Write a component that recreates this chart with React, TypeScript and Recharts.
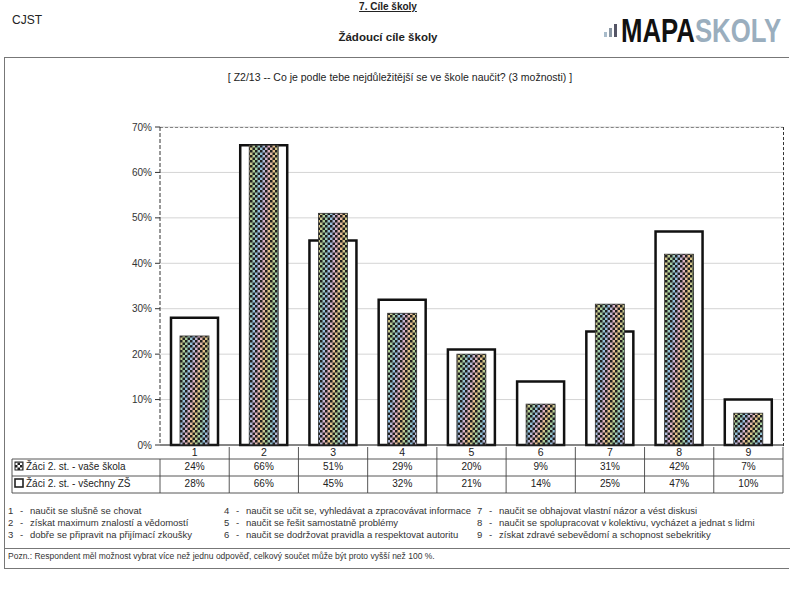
import { BarChart, Bar, XAxis, YAxis, CartesianGrid } from "recharts";

const categories = ["1", "2", "3", "4", "5", "6", "7", "8", "9"];
const vaseSkola = [24, 66, 51, 29, 20, 9, 31, 42, 7];
const vsechnyZS = [28, 66, 45, 32, 21, 14, 25, 47, 10];
const yTicks = [0, 10, 20, 30, 40, 50, 60, 70];

const seriesNames = ["Žáci 2. st. - vaše škola", "Žáci 2. st. - všechny ZŠ"];

const legendItems = [
  ["1", "naučit se slušně se chovat"],
  ["2", "získat maximum znalostí a vědomostí"],
  ["3", "dobře se připravit na přijímací zkoušky"],
  ["4", "naučit se učit se, vyhledávat a zpracovávat informace"],
  ["5", "naučit se řešit samostatně problémy"],
  ["6", "naučit se dodržovat pravidla a respektovat autoritu"],
  ["7", "naučit se obhajovat vlastní názor a vést diskusi"],
  ["8", "naučit se spolupracovat v kolektivu, vycházet a jednat s lidmi"],
  ["9", "získat zdravé sebevědomí a schopnost sebekritiky"],
];

const data = categories.map((c, i) => ({ cat: c, a: vaseSkola[i], b: vsechnyZS[i] }));

const W = 790;
const H = 596;
const PLOT_LEFT = 160;
const PLOT_RIGHT = 783;
const PLOT_TOP = 127;
const PLOT_BOTTOM = 445;
const BAND = (PLOT_RIGHT - PLOT_LEFT) / categories.length;
const NARROW = "'Liberation Sans Narrow', 'Liberation Sans', Arial, sans-serif";
const SANS = "'Liberation Sans', Arial, sans-serif";

const HatchedBar = (props: any) => {
  const { x, y, width, height } = props;
  if (!height || height <= 0) return null;
  return (
    <g>
      <rect x={x} y={y} width={width} height={height} fill="url(#rainbow)" />
      <rect x={x} y={y} width={width} height={height} fill="url(#checks)" />
      <rect x={x} y={y} width={width} height={height} fill="none" stroke="#333" strokeWidth={0.8} />
    </g>
  );
};

const TableTick = (props: any) => {
  const { x, y, payload } = props;
  const i = payload.index;
  const half = BAND / 2;
  const left = x - half;
  const right = x + half;
  const txt = { fontFamily: NARROW, fontSize: 10, fill: "#222", textAnchor: "middle" as const };
  return (
    <g>
      <text x={x} y={y + 11} {...txt} fontSize={10.5}>{payload.value}</text>
      <text x={x} y={y + 25} {...txt}>{vaseSkola[i]}%</text>
      <text x={x} y={y + 42} {...txt}>{vsechnyZS[i]}%</text>
      <line x1={left} x2={right} y1={y + 14} y2={y + 14} stroke="#444" strokeWidth={0.9} />
      <line x1={left} x2={right} y1={y + 31} y2={y + 31} stroke="#444" strokeWidth={0.9} />
      <line x1={left} x2={right} y1={y + 48} y2={y + 48} stroke="#444" strokeWidth={0.9} />
      <line x1={right} x2={right} y1={y + 2} y2={y + 48} stroke="#444" strokeWidth={0.9} />
      {i === 0 && (
        <g>
          <line x1={12} x2={left} y1={y + 14} y2={y + 14} stroke="#444" strokeWidth={0.9} />
          <line x1={12} x2={left} y1={y + 31} y2={y + 31} stroke="#444" strokeWidth={0.9} />
          <line x1={12} x2={left} y1={y + 48} y2={y + 48} stroke="#444" strokeWidth={0.9} />
          <line x1={12} x2={12} y1={y + 14} y2={y + 48} stroke="#444" strokeWidth={0.9} />
          <line x1={left} x2={left} y1={y + 14} y2={y + 48} stroke="#444" strokeWidth={0.9} />
          <rect x={15} y={y + 17} width={8} height={8} fill="url(#checks)" stroke="#222" strokeWidth={1} />
          <rect x={15} y={y + 34} width={8} height={8} fill="#fff" stroke="#222" strokeWidth={1.6} />
          <text x={26} y={y + 25} fontFamily={SANS} fontSize={10} fill="#222">{seriesNames[0]}</text>
          <text x={26} y={y + 42} fontFamily={SANS} fontSize={10} fill="#222">{seriesNames[1]}</text>
        </g>
      )}
    </g>
  );
};

export default function App() {
  return (
    <div style={{ position: "absolute", left: 0, top: 0, width: W, height: H, background: "#fff", overflow: "hidden", fontFamily: SANS, color: "#222" }}>
      {/* header */}
      <div style={{ position: "absolute", left: 12, top: 13, fontSize: 12 }}>CJST</div>
      <div style={{ position: "absolute", left: 288, width: 200, top: 1, textAlign: "center", fontSize: 10, fontWeight: 700, textDecoration: "underline", lineHeight: "11px" }}>7. Cíle školy</div>
      <div style={{ position: "absolute", left: 288, width: 200, top: 31, textAlign: "center", fontSize: 11.5, fontWeight: 700 }}>Žádoucí cíle školy</div>
      <div style={{ position: "absolute", left: 604, top: 32, width: 3, height: 5, background: "#a9bccb" }} />
      <div style={{ position: "absolute", left: 609, top: 28, width: 3, height: 9, background: "#8a97a4" }} />
      <div style={{ position: "absolute", left: 614, top: 24, width: 3, height: 13, background: "#556" }} />
      <div style={{ position: "absolute", left: 621, top: 13, fontSize: 33, fontWeight: 700, lineHeight: "36px", whiteSpace: "nowrap", transform: "scaleX(0.78)", transformOrigin: "left top" }}>
        <span style={{ color: "#111" }}>MAPA</span>
        <span style={{ color: "#9aaebe" }}>SKOLY</span>
      </div>

      {/* page frame */}
      <div style={{ position: "absolute", left: 4, top: 57, width: 784, height: 510, border: "1px solid #777", borderRight: "none" }} />
      <div style={{ position: "absolute", left: 4, top: 548, width: 786, height: 1, background: "#777" }} />

      <div style={{ position: "absolute", left: 150, width: 500, top: 71, textAlign: "center", fontSize: 10.5 }}>
        [ Z2/13 -- Co je podle tebe nejdůležitější se ve škole naučit? (3 možnosti) ]
      </div>

      {/* dashed plot frame */}
      <div style={{ position: "absolute", left: PLOT_LEFT, top: PLOT_TOP, width: PLOT_RIGHT - PLOT_LEFT, height: PLOT_BOTTOM - PLOT_TOP, borderTop: "1.5px dashed #333", borderRight: "1.5px dashed #333" }} />

      <div style={{ position: "absolute", left: 0, top: 0 }}>
        <BarChart width={W} height={H} data={data} margin={{ top: PLOT_TOP, right: W - PLOT_RIGHT, left: 100, bottom: 101 }}>
          <defs>
            <linearGradient id="rainbow" x1="0" y1="0" x2="0.7" y2="0.35" spreadMethod="repeat">
              <stop offset="0%" stopColor="#e8c285" />
              <stop offset="25%" stopColor="#a8cf98" />
              <stop offset="50%" stopColor="#8fbfe0" />
              <stop offset="75%" stopColor="#ddb0cb" />
              <stop offset="100%" stopColor="#e8c285" />
            </linearGradient>
            <pattern id="checks" patternUnits="userSpaceOnUse" width={5} height={5}>
              <rect x={0} y={0} width={2.5} height={2.5} fill="#1f1f1f" />
              <rect x={2.5} y={2.5} width={2.5} height={2.5} fill="#1f1f1f" />
            </pattern>
          </defs>
          <CartesianGrid vertical={false} stroke="#d4d4d4" />
          <XAxis xAxisId="a" dataKey="cat" axisLine={{ stroke: "#222", strokeWidth: 1.2 }} tickLine={false} tickSize={0} tickMargin={0} height={50} interval={0} tick={<TableTick />} />
          <XAxis xAxisId="b" dataKey="cat" hide />
          <YAxis
            domain={[0, 70]}
            ticks={yTicks}
            width={60}
            tickFormatter={(v: number) => `${v}%`}
            axisLine={{ stroke: "#333", strokeDasharray: "4 2" }}
            tickLine={{ stroke: "#333" }}
            tickSize={5}
            tickMargin={3}
            tick={{ fontSize: 10, fill: "#333", fontFamily: NARROW }}
          />
          <Bar xAxisId="b" dataKey="b" barSize={47} fill="#fff" stroke="#111" strokeWidth={2.5} isAnimationActive={false} />
          <Bar xAxisId="a" dataKey="a" barSize={29} shape={<HatchedBar />} isAnimationActive={false} />
        </BarChart>
      </div>

      {/* legend of categories */}
      {legendItems.map(([n, t], i) => {
        const col = Math.floor(i / 3);
        const row = i % 3;
        const left = [8, 224, 477][col];
        return (
          <div key={n} style={{ position: "absolute", left, top: 505 + row * 12, fontSize: 9.5, fontFamily: NARROW, whiteSpace: "nowrap", color: "#333" }}>
            <span style={{ display: "inline-block", width: 12 }}>{n}</span>
            <span style={{ display: "inline-block", width: 10 }}>-</span>
            {t}
          </div>
        );
      })}

      <div style={{ position: "absolute", left: 8, top: 551, fontSize: 8.5, fontFamily: NARROW, color: "#333", whiteSpace: "nowrap" }}>
        Pozn.: Respondent měl možnost vybrat více než jednu odpověď, celkový součet může být proto vyšší než 100 %.
      </div>
    </div>
  );
}
